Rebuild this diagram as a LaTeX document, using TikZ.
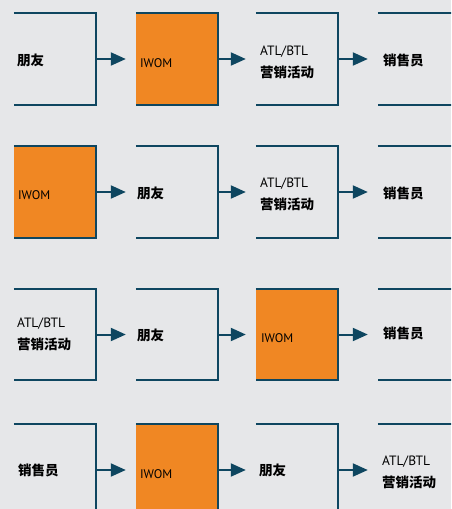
\documentclass[tikz,border=0pt]{standalone}
\usepackage{fontspec}
\setmainfont{PT Sans}
\newfontfamily\cjk{Noto Sans CJK SC}
\usetikzlibrary{arrows.meta}
\definecolor{bg}{RGB}{230,231,233}
\definecolor{lineblue}{RGB}{14,70,96}
\definecolor{orng}{RGB}{240,135,35}
\tikzset{
 box/.style={minimum width=82pt,minimum height=91pt,inner sep=0pt,draw=none},
 brk/.style={draw=lineblue,line width=2pt},
 arr/.style={draw=lineblue,line width=2pt,-{Triangle[length=15pt,width=13pt]}},
 cn/.style={anchor=west,inner sep=0pt,font=\cjk\bfseries\fontsize{13.5}{22}\selectfont},
 lat/.style={anchor=west,inner sep=0pt,font=\fontsize{12.5}{15}\selectfont},
 two/.style={anchor=west,inner sep=0pt,align=left,font=\fontsize{13.5}{22}\selectfont},
}
\newcommand\mybrk[1]{\draw[brk] (#1.north west) -- (#1.north east) -- (#1.south east) -- (#1.south west);}
\newcommand\myorng[1]{\fill[orng] (#1.south west) rectangle (#1.north east);}
\newcommand\twotext{{\fontsize{13.5}{22}\selectfont ATL/BTL}\\{\cjk\bfseries 营销活动}}
\begin{document}
\begin{tikzpicture}[x=1pt,y=-1pt]
\useasboundingbox (0,0) rectangle (451,509);
\clip (0,0) rectangle (451,509);
\fill[bg] (0,0) rectangle (451,509);
% boxes
\foreach \r/\y in {1/59,2/192,3/334.5,4/470}{
  \foreach \c/\x in {1/55,2/177,3/297,4/419}{
    \node[box] (b\r\c) at (\x,\y) {};
  }
}
% orange fills
\myorng{b12}
\myorng{b21}
\myorng{b33}
\myorng{b42}
% brackets
\foreach \r in {1,2,3,4}{
  \foreach \c in {1,2,3,4}{
    \mybrk{b\r\c}
  }
}
% arrows
\foreach \r in {1,2,3,4}{
  \draw[arr] (b\r1.east) -- ([xshift=-10pt]b\r2.west);
  \draw[arr] (b\r2.east) -- ([xshift=-10pt]b\r3.west);
  \draw[arr] (b\r3.east) -- ([xshift=-10pt]b\r4.west);
}
% row 1
\node[cn] (t11) at ([xshift=3pt,yshift=-1pt]b11.west) {朋友};
\node[lat] (t12) at ([xshift=4pt,yshift=-4pt]b12.west) {IWOM};
\node[two] (t13) at ([xshift=4pt,yshift=-3pt]b13.west) {\twotext};
\node[cn] (t14) at ([xshift=5pt,yshift=-1pt]b14.west) {销售员};
% row 2
\node[lat] (t21) at ([xshift=4pt,yshift=-3pt]b21.west) {IWOM};
\node[cn] (t22) at ([xshift=1pt,yshift=-1pt]b22.west) {朋友};
\node[two] (t23) at ([xshift=4pt,yshift=-2pt]b23.west) {\twotext};
\node[cn] (t24) at ([xshift=5pt,yshift=-1pt]b24.west) {销售员};
% row 3
\node[two] (t31) at ([xshift=3pt,yshift=0pt]b31.west) {\twotext};
\node[cn] (t32) at ([xshift=1pt,yshift=-1pt]b32.west) {朋友};
\node[lat] (t33) at ([xshift=5pt,yshift=-4pt]b33.west) {IWOM};
\node[cn] (t34) at ([xshift=5pt,yshift=1pt]b34.west) {销售员};
% row 4
\node[cn] (t41) at ([xshift=4pt,yshift=0pt]b41.west) {销售员};
\node[lat] (t42) at ([xshift=4pt,yshift=-4pt]b42.west) {IWOM};
\node[cn] (t43) at ([xshift=3pt,yshift=0pt]b43.west) {朋友};
\node[two] (t44) at ([xshift=4pt,yshift=-2pt]b44.west) {\twotext};
\end{tikzpicture}
\end{document}
